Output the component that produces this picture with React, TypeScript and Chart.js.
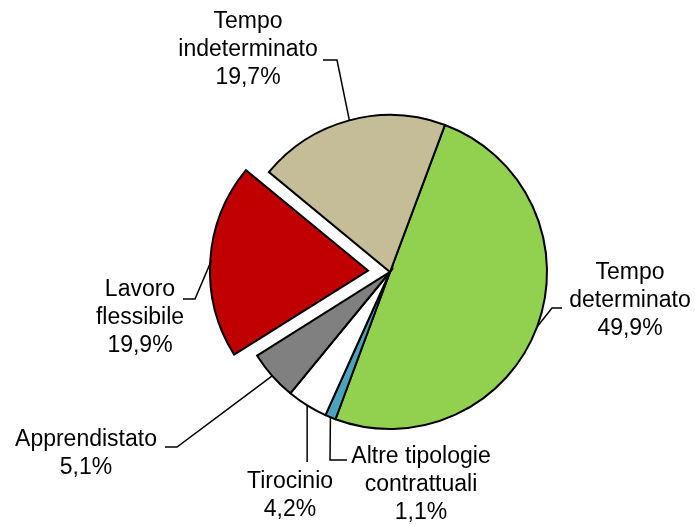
import React, { useEffect, useRef } from "react";
import { Chart, registerables } from "chart.js";

Chart.register(...registerables);

const categories = [
  "Tempo\ndeterminato",
  "Altre tipologie\ncontrattuali",
  "Tirocinio",
  "Apprendistato",
  "Lavoro\nflessibile",
  "Tempo\nindeterminato",
];
const values = [49.9, 1.1, 4.2, 5.1, 19.9, 19.7];
const colors = ["#92D050", "#4BA3BE", "#FFFFFF", "#808080", "#C00000", "#C4BD97"];
const explode = [0, 0, 0, 0, 22, 0];

// label layout relative to pie centre: text centre (x, first-line y) and leader waypoints
const labelPos: [number, number][] = [
  [240, 1],
  [31, 185],
  [-100, 210],
  [-304, 168],
  [-250, 18],
  [-142, -250],
];
const leaderPts: [number, number][][] = [
  [[162, 36], [172, 36]],
  [[-60, 188], [-43, 188]],
  [[-84, 190]],
  [[-213, 175], [-225, 175]],
  [[-195, 27], [-207, 27]],
  [[-53, -212], [-67, -212]],
];

const fmt = (v: number) => v.toFixed(1).replace(".", ",") + "%";

const labelPlugin = {
  id: "pieLabels",
  afterDatasetsDraw(chart: any) {
    const ctx = chart.ctx;
    const meta = chart.getDatasetMeta(0);
    const cx = (chart.chartArea.left + chart.chartArea.right) / 2;
    const cy = (chart.chartArea.top + chart.chartArea.bottom) / 2;
    ctx.save();
    ctx.strokeStyle = "#000";
    ctx.lineWidth = 1.5;
    ctx.fillStyle = "#000";
    ctx.font = '23px "Liberation Sans", Arial, sans-serif';
    ctx.textAlign = "center";
    ctx.textBaseline = "middle";
    meta.data.forEach((arc: any, i: number) => {
      const p = arc.getProps(["x", "y", "startAngle", "endAngle", "outerRadius"], true);
      const mid = (p.startAngle + p.endAngle) / 2;
      const off = explode[i];
      const ax = p.x + Math.cos(mid) * (p.outerRadius + off);
      const ay = p.y + Math.sin(mid) * (p.outerRadius + off);
      ctx.beginPath();
      ctx.moveTo(ax, ay);
      const pts = leaderPts[i];
      if (pts.length === 1) {
        ctx.lineTo(ax, cy + pts[0][1]);
      } else {
        pts.forEach(([dx, dy]) => ctx.lineTo(cx + dx, cy + dy));
      }
      ctx.stroke();
      const lines = categories[i].split("\n").concat([fmt(values[i])]);
      const [lx, ly] = labelPos[i];
      lines.forEach((t, k) => ctx.fillText(t, cx + lx, cy + ly + k * 28));
    });
    ctx.restore();
  },
};

export default function App() {
  const ref = useRef<HTMLCanvasElement | null>(null);
  useEffect(() => {
    if (!ref.current) return;
    const chart = new Chart(ref.current, {
      type: "pie",
      data: {
        labels: categories,
        datasets: [
          {
            data: values,
            backgroundColor: colors,
            borderColor: "#000",
            borderWidth: 2,
            borderJoinStyle: "miter",
            // Chart.js applies offset / 4 as the translation distance
            offset: explode.map((v) => v * 4),
          },
        ],
      },
      options: {
        responsive: false,
        animation: false,
        rotation: 20.5,
        radius: 157,
        layout: { padding: { left: 200, right: 115, top: 80, bottom: 60 } },
        plugins: { legend: { display: false }, tooltip: { enabled: false } },
      },
      plugins: [labelPlugin],
    });
    return () => chart.destroy();
  }, []);
  return (
    <div style={{ position: "absolute", left: 0, top: 0, width: 695, height: 524, background: "#fff" }}>
      <canvas ref={ref} width={695} height={524} />
    </div>
  );
}
